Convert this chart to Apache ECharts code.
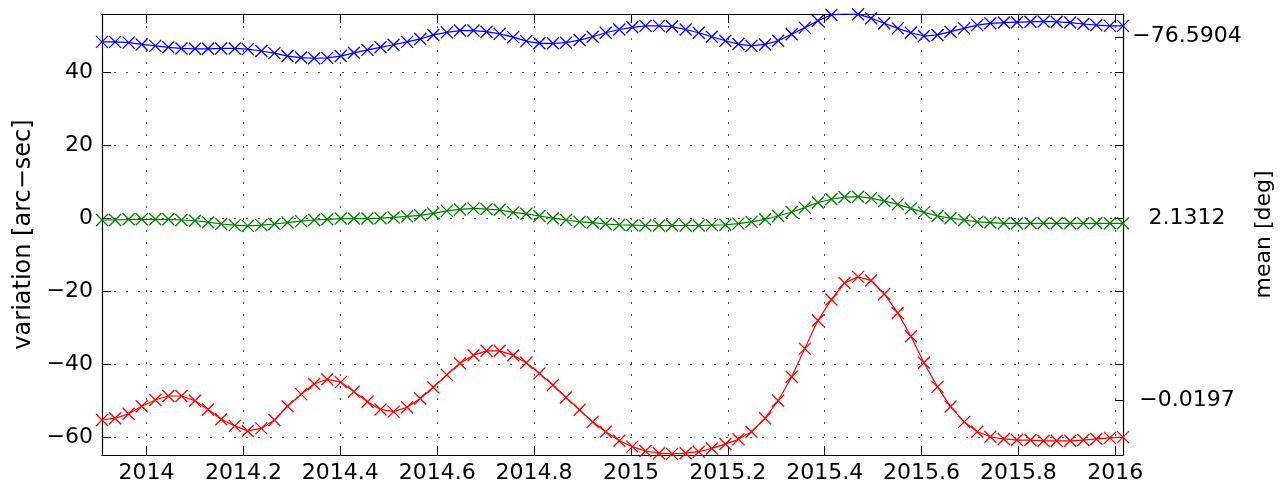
<!DOCTYPE html>
<html>
<head>
<meta charset="utf-8">
<script src="https://cdn.jsdelivr.net/npm/echarts@6/dist/echarts.min.js"></script>
<style>
  html, body { margin: 0; padding: 0; background: #fff; }
  #chart { width: 1285px; height: 494px; }
</style>
</head>
<body>
<div id="chart"></div>
<script>
// sample epochs (decimal year), one every 10 days
const times = [
  2013.908, 2013.935, 2013.963, 2013.990, 2014.018, 2014.045, 2014.072, 2014.100, 2014.127, 2014.154,
  2014.182, 2014.209, 2014.237, 2014.264, 2014.291, 2014.319, 2014.346, 2014.373, 2014.401, 2014.428,
  2014.456, 2014.483, 2014.510, 2014.538, 2014.565, 2014.592, 2014.620, 2014.647, 2014.675, 2014.702,
  2014.729, 2014.757, 2014.784, 2014.811, 2014.839, 2014.866, 2014.894, 2014.921, 2014.948, 2014.976,
  2015.003, 2015.030, 2015.058, 2015.085, 2015.113, 2015.140, 2015.167, 2015.195, 2015.222, 2015.249,
  2015.277, 2015.304, 2015.332, 2015.359, 2015.386, 2015.414, 2015.441, 2015.469, 2015.496, 2015.523,
  2015.551, 2015.578, 2015.605, 2015.633, 2015.660, 2015.688, 2015.715, 2015.742, 2015.770, 2015.797,
  2015.825, 2015.852, 2015.879, 2015.907, 2015.934, 2015.961, 2015.989, 2016.016
]

// variation [arc-sec], already offset per series
const blueVals = [
  48.4, 48.4, 48.2, 47.7, 47.3, 46.9, 46.6, 46.5, 46.5, 46.6,
  46.6, 46.4, 45.9, 45.3, 44.5, 44.1, 43.9, 44.0, 44.5, 45.4,
  46.2, 46.9, 47.6, 48.4, 49.2, 50.3, 51.0, 51.5, 51.5, 51.2,
  50.6, 49.7, 48.6, 48.0, 48.0, 48.2, 48.9, 49.8, 50.9, 51.8,
  52.4, 52.8, 52.8, 52.6, 51.8, 50.9, 49.8, 48.7, 47.8, 47.3,
  47.7, 48.7, 50.5, 52.3, 54.2, 55.8, 56.1, 56.0, 54.9, 53.5,
  52.1, 50.9, 50.0, 50.3, 51.2, 52.1, 53.0, 53.5, 53.7, 53.8,
  53.9, 54.0, 53.9, 53.7, 53.3, 53.0, 52.8, 52.8
]
const greenVals = [
  -0.5, -0.5, -0.3, -0.3, -0.3, -0.3, -0.5, -0.7, -1.1, -1.6,
  -1.9, -2.1, -1.9, -1.6, -1.2, -0.8, -0.5, -0.3, -0.1, -0.1,
  -0.1, 0.0, 0.2, 0.5, 0.8, 1.3, 2.0, 2.4, 2.7, 2.5,
  2.3, 1.6, 1.2, 0.6, 0.0, -0.5, -1.0, -1.2, -1.6, -1.8,
  -1.9, -2.0, -2.0, -2.0, -2.0, -2.0, -1.9, -1.8, -1.5, -1.0,
  -0.3, 0.6, 1.7, 2.9, 4.3, 5.2, 5.8, 5.9, 5.5, 4.7,
  3.8, 2.7, 1.6, 0.6, 0.0, -0.5, -1.0, -1.2, -1.4, -1.4,
  -1.4, -1.4, -1.4, -1.4, -1.4, -1.4, -1.4, -1.4
]
const redVals = [
  -55.4, -54.9, -53.7, -51.6, -49.9, -48.8, -48.8, -50.1, -52.5, -55.2,
  -57.0, -58.4, -57.7, -55.4, -51.6, -48.3, -45.5, -44.2, -45.0, -47.6,
  -50.4, -52.5, -53.1, -51.9, -49.5, -46.4, -43.0, -39.8, -37.6, -36.4,
  -36.4, -37.6, -39.7, -42.6, -45.8, -49.2, -52.6, -55.9, -58.6, -61.1,
  -62.7, -63.9, -64.5, -64.7, -64.5, -64.1, -63.2, -62.0, -60.7, -58.6,
  -54.9, -50.1, -43.5, -35.8, -28.1, -22.3, -17.8, -16.1, -17.1, -20.8,
  -26.0, -32.4, -39.7, -46.3, -51.7, -55.9, -58.6, -60.0, -60.6, -60.9,
  -60.9, -61.1, -61.1, -61.1, -60.9, -60.6, -60.3, -60.1
]

const xTicks = [2014, 2014.2, 2014.4, 2014.6, 2014.8, 2015, 2015.2, 2015.4, 2015.6, 2015.8, 2016]
const yTicks = [-60, -40, -20, 0, 20, 40]
// right axis: where each series' mean sits, and its value in degrees
const meanTicks = [49.8, 0, -49.9]
const meanLabels = ['\u221276.5904', '2.1312', '\u22120.0197']

const font = 'DejaVu Sans'
const txt = { fontFamily: font, fontSize: 22, color: '#000' }

function pairs(vals) {
  return times.map((t, i) => [t, vals[i]])
}

function minus(v) {
  return String(v).replace('-', '\u2212')
}

const xMark = 'path://M0,0L10,10M10,0L0,10'

function lineSeries(name, vals, color) {
  return {
    name: name,
    type: 'line',
    data: pairs(vals),
    symbol: xMark,
    symbolSize: 12,
    showAllSymbol: true,
    lineStyle: { color: color, width: 1.2 },
    itemStyle: { color: color, borderColor: color, borderWidth: 1.3 },
    emphasis: { disabled: true }
  }
}

const chart = echarts.init(document.getElementById('chart'))
chart.setOption({
  animation: false,
  grid: { left: 102, right: 162, top: 14, bottom: 39 },
  xAxis: [{
    type: 'value',
    position: 'bottom',
    min: 2013.908,
    max: 2016.016,
    axisLine: { onZero: false, lineStyle: { color: '#000', width: 1.2 } },
    axisTick: { customValues: xTicks, inside: true, length: 9, lineStyle: { color: '#000' } },
    axisLabel: Object.assign({ customValues: xTicks, margin: 7, formatter: v => String(v) }, txt),
    splitLine: { show: true, lineStyle: { color: '#555', type: [2, 10], width: 1 } }
  }, {
    type: 'value',
    position: 'top',
    min: 2013.908,
    max: 2016.016,
    axisLine: { onZero: false, lineStyle: { color: '#000', width: 1.2 } },
    axisTick: { customValues: xTicks, inside: true, length: 9, lineStyle: { color: '#000' } },
    axisLabel: { show: false },
    splitLine: { show: false }
  }],
  yAxis: [{
    type: 'value',
    position: 'left',
    min: -65,
    max: 56.05,
    name: 'variation [arc\u2212sec]',
    nameLocation: 'middle',
    nameGap: 64,
    nameTextStyle: Object.assign({}, txt, { fontSize: 24 }),
    axisLine: { show: true, onZero: false, lineStyle: { color: '#000', width: 1.2 } },
    axisTick: { show: true, customValues: yTicks, inside: true, length: 9, lineStyle: { color: '#000' } },
    axisLabel: Object.assign({ customValues: yTicks, margin: 9, formatter: minus }, txt),
    splitLine: { show: true, lineStyle: { color: '#555', type: [2, 10], width: 1 } }
  }, {
    type: 'value',
    position: 'right',
    min: -65,
    max: 56.05,
    name: 'mean [deg]',
    nameLocation: 'middle',
    nameGap: 130,
    nameTextStyle: Object.assign({}, txt),
    axisLine: { show: true, onZero: false, lineStyle: { color: '#000', width: 1.2 } },
    axisTick: { show: true, customValues: yTicks.concat(meanTicks), inside: true, length: 8, lineStyle: { color: '#000' } },
    axisLabel: Object.assign({
      customValues: meanTicks,
      margin: 64,
      align: 'center',
      formatter: v => meanLabels[meanTicks.indexOf(v)]
    }, txt),
    splitLine: { show: false }
  }],
  series: [
    lineSeries('red', redVals, '#ff0000'),
    lineSeries('green', greenVals, '#008000'),
    lineSeries('blue', blueVals, '#0000ff')
  ]
})
</script>
</body>
</html>
